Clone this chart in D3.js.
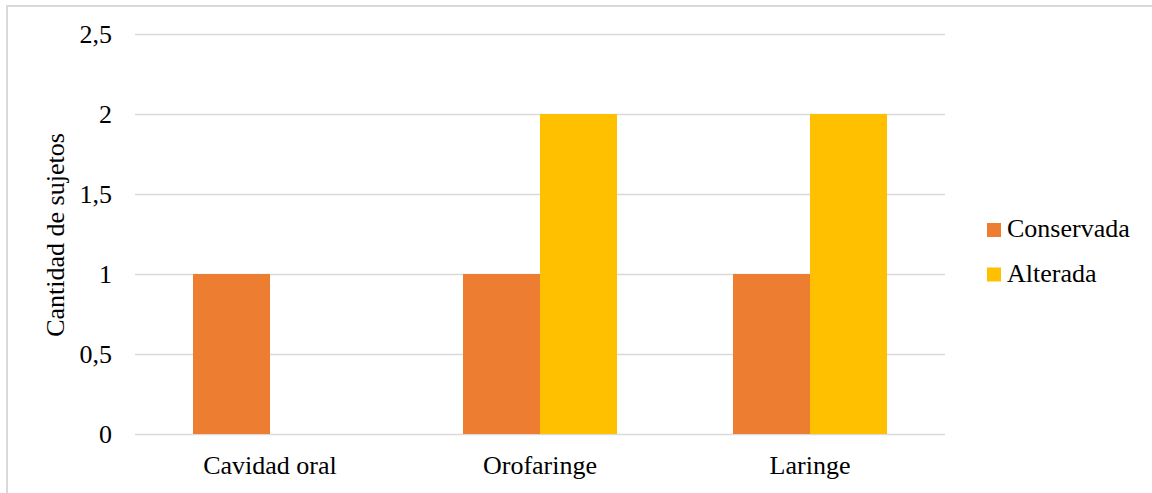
<!DOCTYPE html>
<html><head><meta charset="utf-8">
<script src="https://cdn.jsdelivr.net/npm/d3@7"></script>
<style>html,body{margin:0;padding:0;background:#fff;overflow:hidden}</style>
</head><body>
<svg id="c" width="1152" height="493"></svg>
<script>
const categories = ["Cavidad oral", "Orofaringe", "Laringe"];
const seriesNames = ["Conservada", "Alterada"];
const conservada = [1, 1, 1];
const alterada = [0, 2, 2];
const yTicks = [0, 0.5, 1, 1.5, 2, 2.5];
const yTickLabels = ["0", "0,5", "1", "1,5", "2", "2,5"];
const colors = ["#ED7D31", "#FFC000"];
const yTitle = "Cantidad de sujetos";

const FONT = '"Liberation Serif"';
const FS = "26px";
const svg = d3.select("#c");
const m = {l: 135, r: 945, t: 34, b: 434};

svg.append("rect").attr("x", 7).attr("y", 6).attr("width", 1200).attr("height", 600)
  .attr("fill", "none").attr("stroke", "#d9d9d9").attr("stroke-width", 2);

const x = d3.scaleBand().domain(categories).range([m.l, m.r]).paddingInner(0).paddingOuter(0);
const x1 = d3.scaleBand().domain(seriesNames).range([0, 154]);
const y = d3.scaleLinear().domain([0, 2.5]).range([m.b, m.t]);

const yAxis = d3.axisLeft(y).tickValues(yTicks).tickFormat((d, i) => yTickLabels[i]).tickSize(-(m.r - m.l)).tickPadding(23);
const gy = svg.append("g").attr("transform", `translate(${m.l},0)`).call(yAxis);
gy.select(".domain").remove();
gy.selectAll(".tick line").attr("stroke", "#d9d9d9").attr("stroke-width", 1.5);
gy.selectAll(".tick text").style("font-family", FONT).style("font-size", FS).attr("fill", "#000");

const data = categories.map((c, i) => ({cat: c, vals: [conservada[i], alterada[i]]}));
const groups = svg.append("g").selectAll("g").data(data).join("g")
  .attr("transform", d => `translate(${x(d.cat) + (x.bandwidth() - 154) / 2},0)`);
groups.selectAll("rect").data(d => d.vals.map((v, j) => ({v, j})).filter(e => e.v > 0)).join("rect")
  .attr("x", e => x1(seriesNames[e.j]))
  .attr("width", x1.bandwidth())
  .attr("y", e => y(e.v))
  .attr("height", e => y(0) - y(e.v))
  .attr("fill", e => colors[e.j]);

const xAxis = d3.axisBottom(x).tickSize(0);
const gx = svg.append("g").attr("transform", `translate(0,${m.b})`).call(xAxis);
gx.select(".domain").remove();
gx.selectAll(".tick text").attr("y", 40).attr("dy", 0)
  .style("font-family", FONT).style("font-size", FS).attr("fill", "#000");

svg.append("text").attr("transform", `translate(64,${(m.t + m.b) / 2 + 1}) rotate(-90)`)
  .attr("text-anchor", "middle").style("font-family", FONT).style("font-size", FS).attr("fill", "#000")
  .text(yTitle);

const leg = svg.append("g").selectAll("g").data(seriesNames).join("g")
  .attr("transform", (d, i) => `translate(987,${223 + i * 44.5})`);
leg.append("rect").attr("width", 14).attr("height", 14).attr("fill", (d, i) => colors[i]);
leg.append("text").attr("x", 20).attr("y", 14)
  .style("font-family", FONT).style("font-size", FS).attr("fill", "#000").text(d => d);
</script>
</body></html>
